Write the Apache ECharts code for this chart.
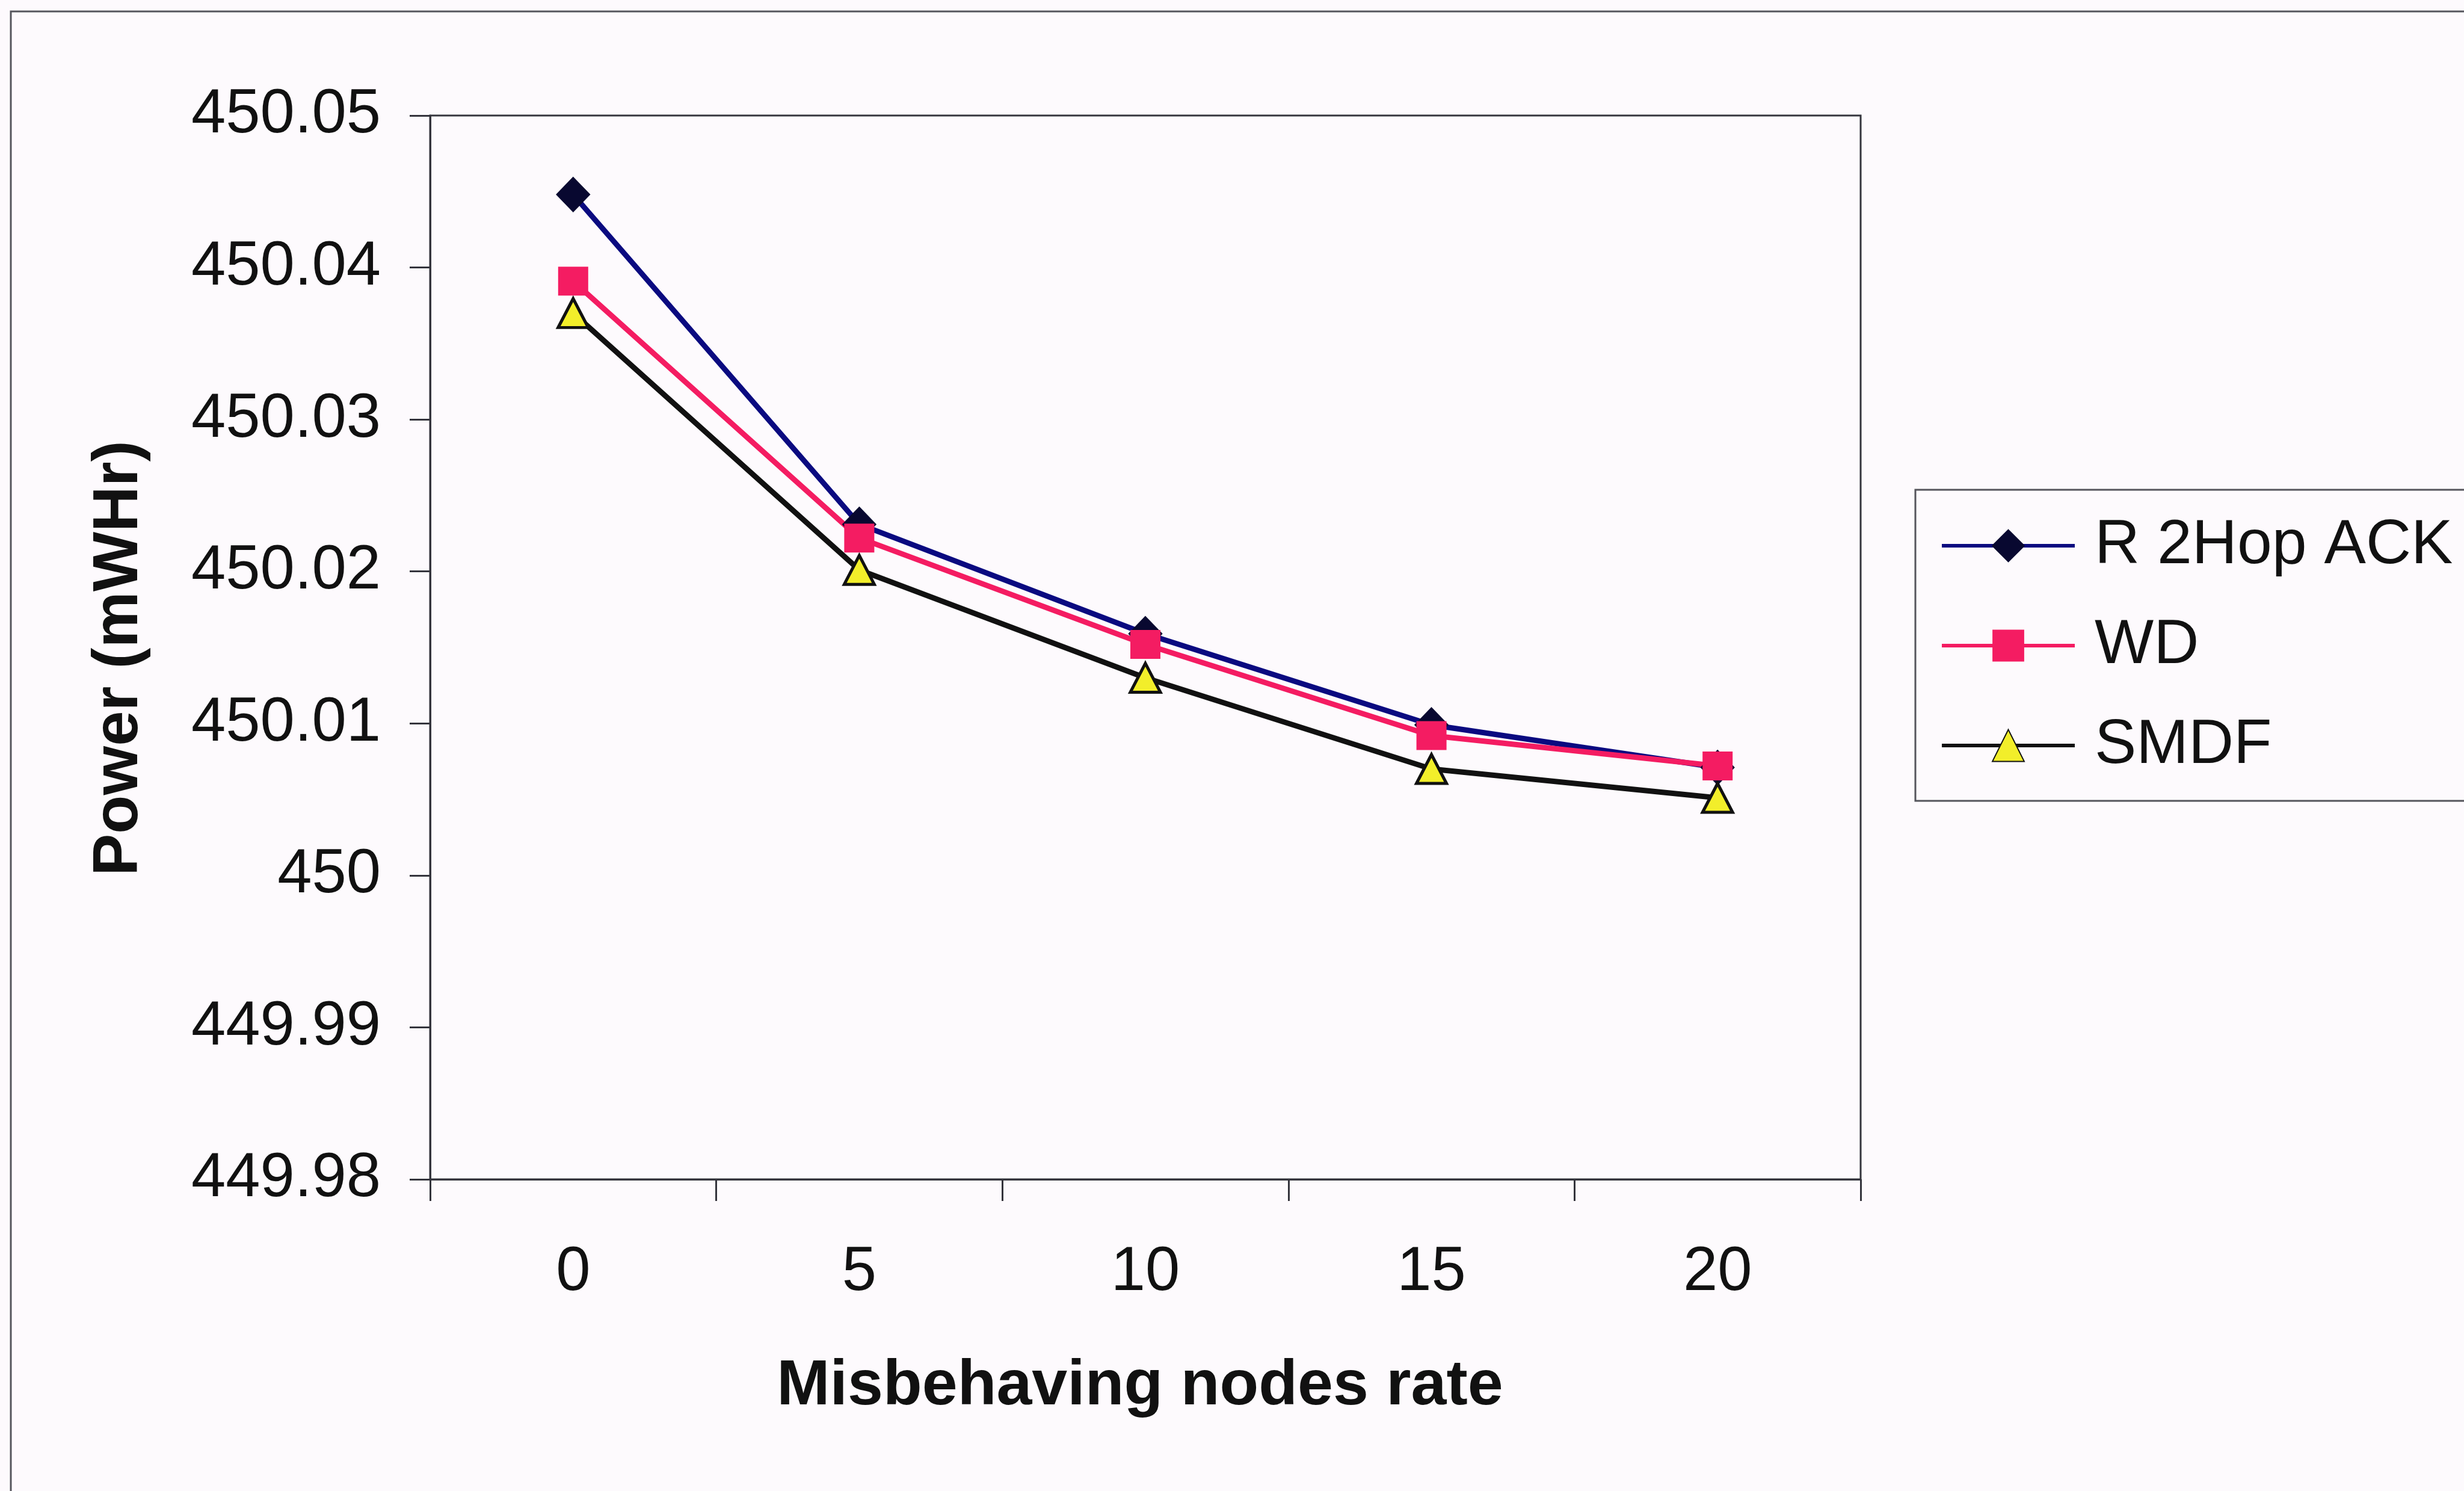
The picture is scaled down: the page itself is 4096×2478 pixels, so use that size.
<!DOCTYPE html>
<html>
<head>
<meta charset="utf-8">
<title>Power vs misbehaving nodes rate</title>
<script src="https://cdn.jsdelivr.net/npm/echarts@6/dist/echarts.min.js"></script>
<style>
  html, body { margin: 0; padding: 0; background: #fdfafd; }
  #chart { width: 4096px; height: 2478px; }
</style>
</head>
<body>
<div id="chart"></div>
<script>
// Misbehaving nodes rate (%)
const categories = ['0', '5', '10', '15', '20'];

// Power consumption (mWHr) per scheme
const r2HopAck = [450.0448, 450.0231, 450.0159, 450.0099, 450.0071];
const wd       = [450.0391, 450.0222, 450.0152, 450.0092, 450.0072];
const smdf     = [450.0370, 450.0201, 450.0130, 450.0070, 450.0051];

// Value axis range and step
const yMin = 449.98;
const yMax = 450.05;
const yStep = 0.01;

const seriesNames = ['R 2Hop ACK', 'WD', 'SMDF'];

const FONT = '"Liberation Sans", Arial, Helvetica, sans-serif';
const AXIS_COLOR = '#34343c';

const chart = echarts.init(document.getElementById('chart'), null, { renderer: 'canvas' });

chart.setOption({
  backgroundColor: '#fdfafd',
  animation: false,
  textStyle: { fontFamily: FONT, color: '#111' },
  graphic: [
    {
      type: 'rect',
      shape: { x: 18, y: 19, width: 4200, height: 2600 },
      style: { fill: 'none', stroke: '#55555c', lineWidth: 3 },
      silent: true,
      z: -1
    }
  ],
  grid: {
    left: 715,
    top: 192,
    width: 2378,
    height: 1768,
    show: true,
    backgroundColor: 'transparent',
    borderColor: AXIS_COLOR,
    borderWidth: 3
  },
  legend: {
    orient: 'vertical',
    left: 3184,
    top: 814,
    padding: [41, 80, 40, 41],
    itemWidth: 221,
    itemHeight: 66,
    itemGap: 62,
    borderColor: '#55555c',
    borderWidth: 3,
    backgroundColor: '#fdfafd',
    data: seriesNames,
    lineStyle: { width: 6 },
    textStyle: {
      fontFamily: FONT,
      fontSize: 104,
      color: '#111',
      padding: [0, 0, 0, 28]
    }
  },
  xAxis: {
    type: 'category',
    data: categories,
    boundaryGap: true,
    name: 'Misbehaving nodes rate',
    nameLocation: 'middle',
    nameGap: 292,
    nameTextStyle: {
      fontFamily: FONT,
      fontSize: 106,
      fontWeight: 'bold',
      color: '#111',
      padding: [0, 18, 0, 0]
    },
    axisLine: { show: true, lineStyle: { color: AXIS_COLOR, width: 3 } },
    axisTick: { show: true, length: 36, lineStyle: { color: AXIS_COLOR, width: 3 } },
    axisLabel: {
      fontFamily: FONT,
      fontSize: 103,
      color: '#111',
      margin: 104
    },
    splitLine: { show: false }
  },
  yAxis: {
    type: 'value',
    min: yMin,
    max: yMax,
    interval: yStep,
    name: 'Power (mWHr)',
    nameLocation: 'middle',
    nameRotate: 90,
    nameGap: 463,
    nameTextStyle: {
      fontFamily: FONT,
      fontSize: 105,
      fontWeight: 'bold',
      color: '#111',
      padding: [0, 36, 0, 0]
    },
    axisLine: { show: true, lineStyle: { color: AXIS_COLOR, width: 3 } },
    axisTick: { show: true, length: 34, lineStyle: { color: AXIS_COLOR, width: 3 } },
    axisLabel: {
      fontFamily: FONT,
      fontSize: 103,
      color: '#111',
      margin: 82,
      formatter: function (v) { return String(parseFloat(v.toFixed(2))); }
    },
    splitLine: { show: false }
  },
  series: [
    {
      name: seriesNames[0],
      type: 'line',
      data: r2HopAck,
      symbol: 'diamond',
      symbolSize: [56, 58],
      lineStyle: { color: '#0a0a80', width: 9 },
      itemStyle: { color: '#080830', borderColor: '#080830', borderWidth: 1 },
      emphasis: { disabled: true }
    },
    {
      name: seriesNames[1],
      type: 'line',
      data: wd,
      symbol: 'rect',
      symbolSize: [50, 48],
      lineStyle: { color: '#f41c62', width: 9 },
      itemStyle: { color: '#f41c62', borderColor: '#f41c62', borderWidth: 0 },
      emphasis: { disabled: true }
    },
    {
      name: seriesNames[2],
      type: 'line',
      data: smdf,
      symbol: 'triangle',
      symbolSize: [50, 48],
      lineStyle: { color: '#111111', width: 9 },
      itemStyle: { color: '#f2ee2a', borderColor: '#111111', borderWidth: 5 },
      emphasis: { disabled: true }
    }
  ]
});
</script>
</body>
</html>
